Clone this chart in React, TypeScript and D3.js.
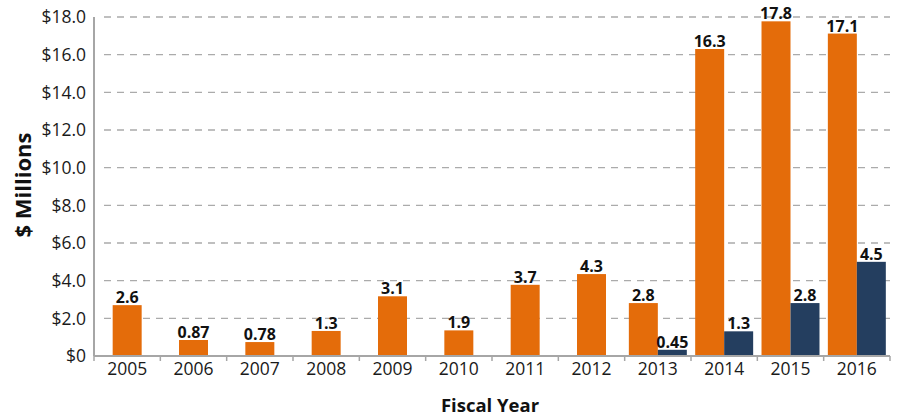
import React from 'react';
import * as d3 from 'd3';

const years = ['2005', '2006', '2007', '2008', '2009', '2010', '2011', '2012', '2013', '2014', '2015', '2016'];
const orangeValues = [2.7, 0.85, 0.74, 1.33, 3.17, 1.36, 3.78, 4.35, 2.81, 16.3, 17.77, 17.12];
const orangeLabels = ['2.6', '0.87', '0.78', '1.3', '3.1', '1.9', '3.7', '4.3', '2.8', '16.3', '17.8', '17.1'];
const navyValues: (number | null)[] = [null, null, null, null, null, null, null, null, 0.33, 1.31, 2.81, 5.0];
const navyLabels: (string | null)[] = [null, null, null, null, null, null, null, null, '0.45', '1.3', '2.8', '4.5'];
const yTicks = [0, 2, 4, 6, 8, 10, 12, 14, 16, 18];
const yTickLabels = ['$0', '$2.0', '$4.0', '$6.0', '$8.0', '$10.0', '$12.0', '$14.0', '$16.0', '$18.0'];

const ORANGE = '#E46C0A';
const NAVY = '#243E5F';
const AXIS = '#A6A6A6';
const GRID = '#ABABAB';
const FONT = '"Open Sans", "Noto Sans", sans-serif';

export default function App() {
  const W = 900, H = 420;
  const left = 94, right = 890, top = 17, bottom = 356;
  const x = d3.scaleBand<string>().domain(years).range([left, right]).padding(0);
  const y = d3.scaleLinear().domain([0, 18]).range([bottom, top]);
  const bw = x.bandwidth() * 0.437;

  const bars: React.ReactNode[] = [];
  years.forEach((yr, i) => {
    const c = (x(yr) as number) + x.bandwidth() / 2;
    const nv = navyValues[i];
    const hasNavy = nv !== null;
    const ox = hasNavy ? c - bw : c - bw / 2;
    const ov = orangeValues[i];
    bars.push(
      <rect key={'o' + yr} x={ox} y={y(ov)} width={bw} height={y(0) - y(ov)} fill={ORANGE} />
    );
    bars.push(
      <text key={'ol' + yr} x={ox + bw / 2} y={y(ov) - 2} textAnchor="middle" fontFamily={FONT}
        fontWeight={700} fontSize={16} fill="#111">{orangeLabels[i]}</text>
    );
    if (hasNavy) {
      const nx = c;
      bars.push(
        <rect key={'n' + yr} x={nx} y={y(nv as number)} width={bw} height={y(0) - y(nv as number)} fill={NAVY} />
      );
      bars.push(
        <text key={'nl' + yr} x={nx + bw / 2} y={y(nv as number) - 2} textAnchor="middle" fontFamily={FONT}
          fontWeight={700} fontSize={16} fill="#111">{navyLabels[i]}</text>
      );
    }
  });

  const boundaries = years.map((yr) => x(yr) as number).concat([right]);

  return (
    <svg width={W} height={H} style={{ position: 'absolute', left: 0, top: 0, background: '#fff' }}>
      {yTicks.filter((t) => t > 0).map((t) => (
        <line key={'g' + t} x1={104} x2={right} y1={y(t)} y2={y(t)} stroke={GRID}
          strokeWidth={1.3} strokeDasharray="7 6" />
      ))}
      {yTicks.map((t, i) => (
        <text key={'yt' + t} x={86} y={y(t)} dy="0.36em" textAnchor="end" fontFamily={FONT}
          fontSize={17.5} fill="#1a1a1a">{yTickLabels[i]}</text>
      ))}
      {bars}
      <line x1={left} x2={left} y1={top} y2={bottom} stroke={AXIS} strokeWidth={2} />
      <line x1={left} x2={right} y1={bottom} y2={bottom} stroke={AXIS} strokeWidth={2} />
      {boundaries.map((b, i) => (
        <line key={'tk' + i} x1={b} x2={b} y1={bottom} y2={bottom + 5} stroke={AXIS} strokeWidth={1.5} />
      ))}
      {years.map((yr) => (
        <text key={'xl' + yr} x={(x(yr) as number) + x.bandwidth() / 2} y={375} textAnchor="middle"
          fontFamily={FONT} fontSize={17.5} fill="#1a1a1a">{yr}</text>
      ))}
      <text x={490} y={412} textAnchor="middle" fontFamily={FONT} fontWeight={700} fontSize={18.5} fill="#111">Fiscal Year</text>
      <text transform={`translate(31,185) rotate(-90)`} textAnchor="middle" fontFamily={FONT} fontWeight={700}
        fontSize={22} fill="#111">$ Millions</text>
    </svg>
  );
}
